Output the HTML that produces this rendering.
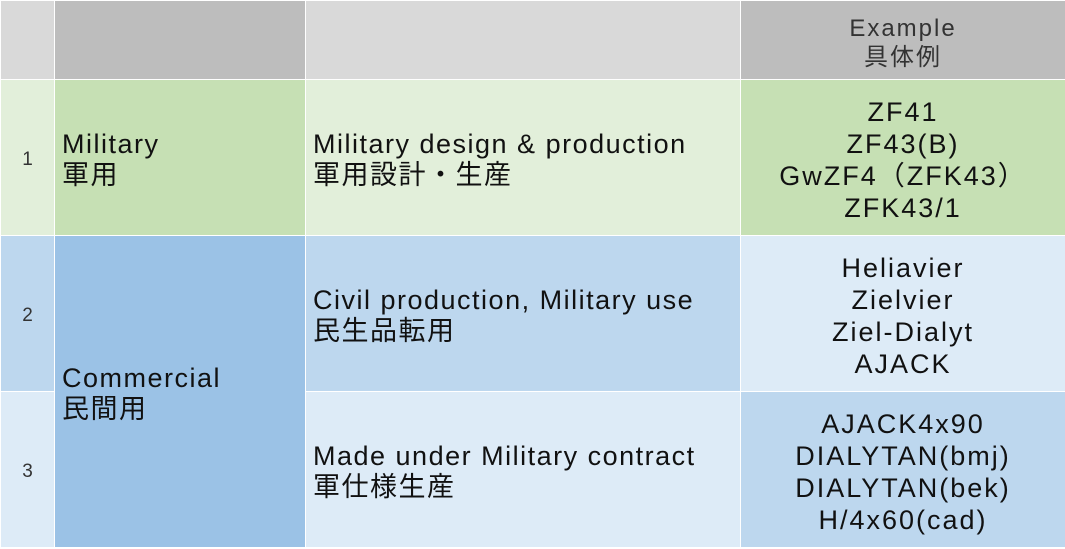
<!DOCTYPE html>
<html><head><meta charset="utf-8"><style>
body{margin:0;width:1065px;height:549px;background:#fff;position:relative;overflow:hidden;font-family:"Liberation Sans","Noto Sans CJK JP",sans-serif;color:#111}
.c{position:absolute;display:flex;align-items:center;box-sizing:border-box;padding-top:4px}
.l{padding-left:7px;font-size:27px;line-height:31px;letter-spacing:1.5px}
.m{justify-content:center;text-align:center;font-size:27px;line-height:32px;letter-spacing:2px}
.n{justify-content:center;font-size:19px;color:#333}
</style></head><body>
<div class="c" style="left:1px;top:1px;width:53px;height:78px;background:#d9d9d9"></div>
<div class="c" style="left:55px;top:1px;width:250px;height:78px;background:#bdbdbd"></div>
<div class="c" style="left:306px;top:1px;width:434px;height:78px;background:#d9d9d9"></div>
<div class="c m" style="left:741px;top:1px;width:324px;height:78px;background:#bdbdbd;font-size:24px;line-height:29px;color:#333;padding-top:6px">Example<br>具体例</div>

<div class="c n" style="left:1px;top:80px;width:53px;height:155px;background:#e2efda">1</div>
<div class="c l" style="left:55px;top:80px;width:250px;height:155px;background:#c6e0b4">Military<br>軍用</div>
<div class="c l" style="left:306px;top:80px;width:434px;height:155px;background:#e2efda">Military design &amp; production<br>軍用設計・生産</div>
<div class="c m" style="left:741px;top:80px;width:324px;height:155px;background:#c6e0b4">ZF41<br>ZF43(B)<br>GwZF4（ZFK43）<br>ZFK43/1</div>

<div class="c n" style="left:1px;top:236px;width:53px;height:155px;background:#bdd7ee">2</div>
<div class="c l" style="left:55px;top:236px;width:250px;height:311px;background:#9bc2e6">Commercial<br>民間用</div>
<div class="c l" style="left:306px;top:236px;width:434px;height:155px;background:#bdd7ee">Civil production, Military use<br>民生品転用</div>
<div class="c m" style="left:741px;top:236px;width:324px;height:155px;background:#ddebf7">Heliavier<br>Zielvier<br>Ziel-Dialyt<br>AJACK</div>

<div class="c n" style="left:1px;top:392px;width:53px;height:155px;background:#ddebf7">3</div>
<div class="c l" style="left:306px;top:392px;width:434px;height:155px;background:#ddebf7">Made under Military contract<br>軍仕様生産</div>
<div class="c m" style="left:741px;top:392px;width:324px;height:155px;background:#bdd7ee">AJACK4x90<br>DIALYTAN(bmj)<br>DIALYTAN(bek)<br>H/4x60(cad)</div>
</body></html>
